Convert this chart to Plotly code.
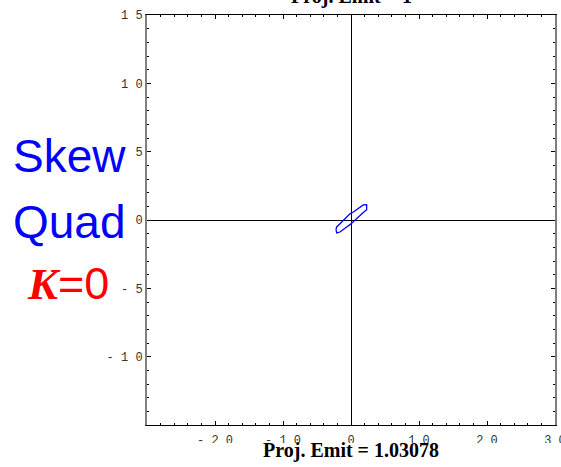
import plotly.graph_objects as go

# Phase-space contour (x, y)
contour_x = [-2.21, -2.10, -1.62, -1.13, -0.64, -0.15, 0.34, 0.83, 1.32, 1.81, 2.30,
             2.30, 1.81, 1.32, 0.83, 0.34, -0.15, -0.64, -1.13, -1.62, -2.10, -2.21]
contour_y = [-0.68, -0.51, -0.27, -0.02, 0.20, 0.45, 0.59, 0.75, 0.95, 1.10, 1.12,
             0.75, 0.55, 0.31, 0.09, -0.10, -0.34, -0.51, -0.71, -0.88, -0.95, -0.68]

x_tickvals = [-20, -10, 0, 10, 20, 30]
x_ticktext = ["- 2 0", "- 1 0", "0", "1 0", "2 0", "3 0"]
y_tickvals = [15, 10, 5, 0, -5, -10]
y_ticktext = ["1 5", "1 0", "5", "0", "- 5", "- 1 0"]

top_title = "Proj. Emit = 1"
bottom_title = "Proj. Emit = 1.03078"

fig = go.Figure()
fig.add_trace(go.Scatter(x=contour_x, y=contour_y, mode="lines",
                         line=dict(color="#0000ff", width=1.3), showlegend=False,
                         hoverinfo="skip"))

tickfont = dict(family="Liberation Mono", size=12, color="#333333")
fig.update_xaxes(range=[-30, 30], showgrid=False, zeroline=True, zerolinecolor="black",
                 zerolinewidth=1, showline=True, linecolor="black", linewidth=1,
                 mirror="allticks", ticks="inside", ticklen=4, tickcolor="black",
                 tickvals=x_tickvals, ticktext=x_ticktext, tickfont=tickfont,
                 ticklabeloverflow="allow", automargin=False,
                 minor=dict(dtick=2, ticks="inside", ticklen=2, tickcolor="black", showgrid=False),
                 ticklabelstandoff=4)
fig.update_yaxes(range=[-15, 15], showgrid=False, zeroline=True, zerolinecolor="black",
                 zerolinewidth=1, showline=True, linecolor="#808080", linewidth=2,
                 mirror="allticks", ticks="inside", ticklen=4, tickcolor="black",
                 tickvals=y_tickvals, ticktext=y_ticktext, tickfont=tickfont,
                 ticklabeloverflow="allow", automargin=False,
                 minor=dict(dtick=1, ticks="inside", ticklen=2, tickcolor="black", showgrid=False),
                 ticklabelstandoff=0)

fig.add_shape(type="rect", xref="paper", yref="paper", x0=-1, x1=2, y0=-0.0439, y1=-0.3,
              fillcolor="white", line=dict(width=0), layer="above")

fig.add_annotation(text="<b>" + bottom_title + "</b>", xref="paper", yref="paper",
                   x=0.5, y=-0.0634, showarrow=False, xanchor="center", yanchor="middle",
                   font=dict(family="Liberation Serif", size=20, color="black"))
fig.add_annotation(text="<b>" + top_title + "</b>", xref="paper", yref="paper",
                   x=0.5, y=1.046, showarrow=False, xanchor="center", yanchor="middle",
                   font=dict(family="Liberation Serif", size=20, color="black"))

fig.add_annotation(text="Skew", xref="paper", yref="paper", x=-0.19, y=0.655,
                   xanchor="center", yanchor="middle",
                   showarrow=False, font=dict(family="Liberation Sans", size=46, color="#0000ff"))
fig.add_annotation(text="Quad", xref="paper", yref="paper", x=-0.19, y=0.495,
                   xanchor="center", yanchor="middle",
                   showarrow=False, font=dict(family="Liberation Sans", size=46, color="#0000ff"))
fig.add_annotation(text="<b><i><span style='font-family:Liberation Serif'>K</span></i></b>=0",
                   xref="paper", yref="paper", x=-0.194, y=0.345,
                   xanchor="center", yanchor="middle",
                   showarrow=False, font=dict(family="Liberation Sans", size=45, color="#ff0000"))

fig.update_layout(width=561, height=467, margin=dict(l=147, r=6, t=15, b=42, autoexpand=False),
                  plot_bgcolor="white", paper_bgcolor="white")

fig.write_html("out.html")
